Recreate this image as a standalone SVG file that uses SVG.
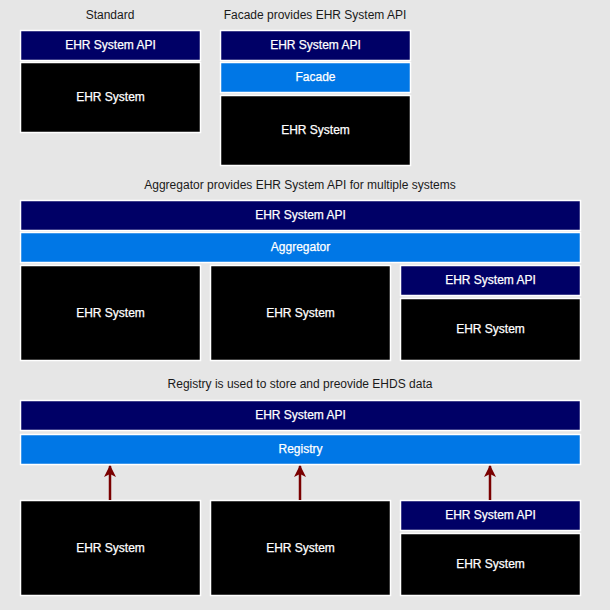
<svg xmlns="http://www.w3.org/2000/svg" width="610" height="610" viewBox="0 0 610 610">
<defs>
<style>
.bg{fill:#e6e6e6}
.api{fill:#000066;stroke:#ffffff;stroke-width:1.5}
.mid{fill:#0077e6;stroke:#ffffff;stroke-width:1.5}
.sys{fill:#000000;stroke:#ffffff;stroke-width:1.5}
.lbl{font-family:"Liberation Sans",Arial,sans-serif;font-size:12px;fill:#ffffff;stroke:#ffffff;stroke-width:0.25;text-anchor:middle}
.ttl{font-family:"Liberation Sans",Arial,sans-serif;font-size:12px;fill:#1a1a1a;text-anchor:middle}
.arr{stroke:#7a0000;stroke-width:2.5;fill:none}
</style>
<marker id="ah" markerWidth="12" markerHeight="12" viewBox="0 0 12 12" refX="11" refY="6" orient="auto" markerUnits="userSpaceOnUse">
<path d="M0,0 L12,6 L0,12 L3,6 Z" fill="#7a0000"/>
</marker>
</defs>
<rect class="bg" x="0" y="0" width="610" height="610"/>

<text class="ttl" x="110" y="19">Standard</text>
<text class="ttl" x="315" y="19">Facade provides EHR System API</text>
<text class="ttl" x="300" y="189">Aggregator provides EHR System API for multiple systems</text>
<text class="ttl" x="300" y="388">Registry is used to store and preovide EHDS data</text>

<g id="std-api"><rect class="api" x="20.5" y="30.5" width="180" height="30"/><text class="lbl" x="110.5" y="48.5">EHR System API</text></g>
<g id="std-sys"><rect class="sys" x="20.5" y="62.5" width="180" height="70"/><text class="lbl" x="110.5" y="100.5">EHR System</text></g>

<g id="fac-api"><rect class="api" x="220.5" y="30.5" width="190" height="30"/><text class="lbl" x="315.5" y="48.5">EHR System API</text></g>
<g id="fac-facade"><rect class="mid" x="220.5" y="62.5" width="190" height="30"/><text class="lbl" x="315.5" y="80.5">Facade</text></g>
<g id="fac-sys"><rect class="sys" x="220.5" y="95.5" width="190" height="70"/><text class="lbl" x="315.5" y="133.5">EHR System</text></g>

<g id="agg-api"><rect class="api" x="20.5" y="200.5" width="560" height="30"/><text class="lbl" x="300.5" y="218.5">EHR System API</text></g>
<g id="agg-agg"><rect class="mid" x="20.5" y="232.5" width="560" height="30"/><text class="lbl" x="300.5" y="250.5">Aggregator</text></g>
<g id="agg-sys1"><rect class="sys" x="20.5" y="265.5" width="180" height="95"/><text class="lbl" x="110.5" y="316.5">EHR System</text></g>
<g id="agg-sys2"><rect class="sys" x="210.5" y="265.5" width="180" height="95"/><text class="lbl" x="300.5" y="316.5">EHR System</text></g>
<g id="agg-api3"><rect class="api" x="400.5" y="265.5" width="180" height="30"/><text class="lbl" x="490.5" y="283.5">EHR System API</text></g>
<g id="agg-sys3"><rect class="sys" x="400.5" y="298.5" width="180" height="62"/><text class="lbl" x="490.5" y="332.5">EHR System</text></g>

<g id="reg-api"><rect class="api" x="20.5" y="400.5" width="560" height="30"/><text class="lbl" x="300.5" y="418.5">EHR System API</text></g>
<g id="reg-reg"><rect class="mid" x="20.5" y="434.5" width="560" height="30"/><text class="lbl" x="300.5" y="452.5">Registry</text></g>
<g id="reg-sys1"><rect class="sys" x="20.5" y="500.5" width="180" height="95"/><text class="lbl" x="110.5" y="551.5">EHR System</text></g>
<g id="reg-sys2"><rect class="sys" x="210.5" y="500.5" width="180" height="95"/><text class="lbl" x="300.5" y="551.5">EHR System</text></g>
<g id="reg-api3"><rect class="api" x="400.5" y="500.5" width="180" height="30"/><text class="lbl" x="490.5" y="518.5">EHR System API</text></g>
<g id="reg-sys3"><rect class="sys" x="400.5" y="533.5" width="180" height="62"/><text class="lbl" x="490.5" y="567.5">EHR System</text></g>

<g id="connectors">
<line class="arr" x1="110" y1="500" x2="110" y2="466" marker-end="url(#ah)"/>
<line class="arr" x1="300" y1="500" x2="300" y2="466" marker-end="url(#ah)"/>
<line class="arr" x1="490" y1="500" x2="490" y2="466" marker-end="url(#ah)"/>
</g>
</svg>
